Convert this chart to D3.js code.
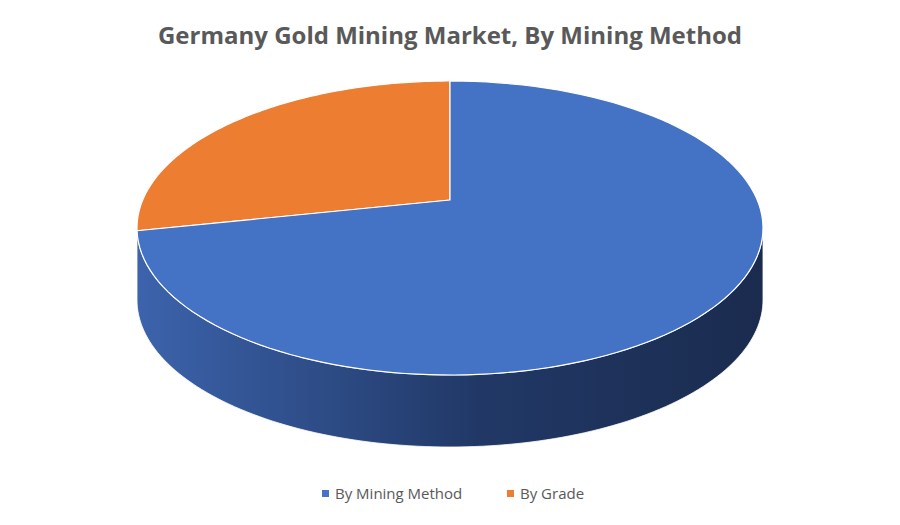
<!DOCTYPE html><html><head><meta charset="utf-8"><script src="https://cdn.jsdelivr.net/npm/d3@7"></script>
<style>body{margin:0;background:#fff}</style></head><body><svg id="c" width="900" height="525"></svg>
<script>
const categories=["By Mining Method","By Grade"];
const values=[74.7,25.3];
const colors=["#4472C4","#ED7D31"];
const svg=d3.select("#c");
const W=900,cx=450,cy=228,rx=313,ry=147,depth=72,apex=[450,200];
svg.append("text").attr("x",W/2).attr("y",44).attr("text-anchor","middle")
 .attr("font-family","Open Sans, Noto Sans, sans-serif").attr("font-weight","bold").attr("font-size",24).attr("fill","#595959")
 .text("Germany Gold Mining Market, By Mining Method");
const defs=svg.append("defs");
const g=defs.append("linearGradient").attr("id","side").attr("x1","0").attr("x2","1");
g.append("stop").attr("offset","0").attr("stop-color","#3C63AC");
g.append("stop").attr("offset","0.55").attr("stop-color","#213866");
g.append("stop").attr("offset","1").attr("stop-color","#1A2B4E");
const total=d3.sum(values);
const ang=d3.scaleLinear().domain([0,total]).range([270,270-360]);
const pt=(t,dy=0)=>[cx+rx*Math.cos(t*Math.PI/180),cy+ry*Math.sin(t*Math.PI/180)+dy];
function arcPts(a0,a1,dy=0){const n=120,p=[];for(let i=0;i<=n;i++)p.push(pt(a0+(a1-a0)*i/n,dy));return p;}
const front=arcPts(0,180),back=arcPts(180,0,depth);
svg.append("path").attr("d","M"+front.concat(back).map(p=>p.join(",")).join("L")+"Z").attr("fill","url(#side)").attr("stroke","#fff").attr("stroke-width",0.8);
const order=[1,0];let acc=0;
order.forEach(i=>{
 const a0=ang(acc),a1=ang(acc+values[i]);acc+=values[i];
 const p=arcPts(a0,a1);
 svg.append("path").attr("d","M"+apex.join(",")+"L"+p.map(q=>q.join(",")).join("L")+"Z")
  .attr("fill",colors[i]).attr("stroke","#fff").attr("stroke-width",1.2).attr("stroke-linejoin","round");
});
const lg=svg.append("g").attr("font-family","Open Sans, Noto Sans, sans-serif").attr("font-size",15).attr("fill","#595959");
const lx=[322,507];
categories.forEach((c,i)=>{
 lg.append("rect").attr("x",lx[i]).attr("y",490).attr("width",7).attr("height",7).attr("fill",colors[i]);
 lg.append("text").attr("x",lx[i]+13).attr("y",499).text(c);
});
</script></body></html>
